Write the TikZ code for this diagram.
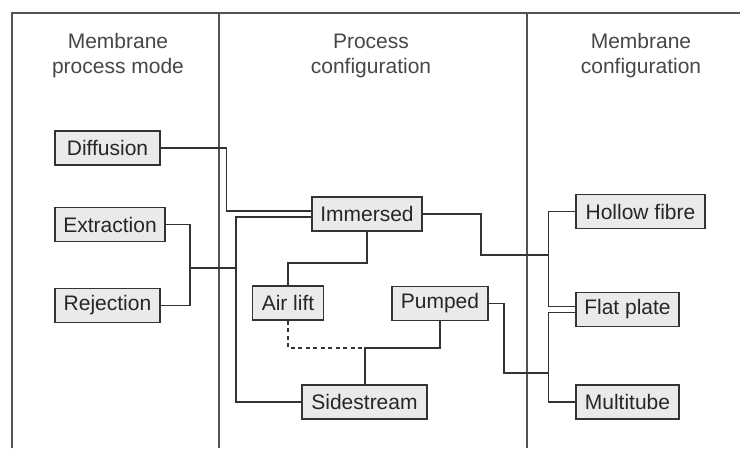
\documentclass[tikz,border=0pt]{standalone}
\usepackage{fontspec}
\setmainfont{Liberation Sans}
\definecolor{ink}{HTML}{333333}
\definecolor{boxfill}{HTML}{EAEAEA}
\definecolor{txt}{HTML}{262626}
\tikzset{
  box/.style={draw=ink, fill=boxfill, line width=1.6pt, minimum height=34pt,
    inner xsep=2pt, inner ysep=0pt, text=txt, font=\fontsize{21}{25}\selectfont},
  conn/.style={draw=ink, line width=1.4pt},
  frameline/.style={draw=ink!85, line width=1.1pt},
  header/.style={align=center, text=txt!85, font=\fontsize{21}{25}\selectfont}
}
\begin{document}
\begin{tikzpicture}[x=1pt,y=-1pt]
\useasboundingbox (0,0) rectangle (740,448);
\fill[white] (0,0) rectangle (740,448);
% frame
\draw[frameline] (12,448) -- (12,13) -- (740,13);
\draw[frameline] (219,13) -- (219,448);
\draw[frameline] (527,13) -- (527,448);
% headers
\node[header] (h1) at (118,55.5) {Membrane\\process mode};
\node[header] (h2) at (371,55.5) {Process\\configuration};
\node[header] (h3) at (641,55.5) {Membrane\\configuration};
% boxes
\node[box, minimum width=105pt] (diff) at (107.5,148) {Diffusion};
\node[box, minimum width=110pt] (extr) at (110,224.5) {Extraction};
\node[box, minimum width=105pt] (rej) at (107.5,305.5) {Rejection};
\node[box, minimum width=110pt] (imm) at (367,214) {Immersed};
\node[box, minimum width=71pt] (air) at (288,303) {Air lift};
\node[box, minimum width=125pt] (side) at (364.5,402) {Sidestream};
\node[box, minimum width=96pt] (pump) at (440,303.5) {Pumped};
\node[box, minimum width=129pt] (hollow) at (640.5,211.5) {Hollow fibre};
\node[box, minimum width=103pt] (flat) at (627.5,309.5) {Flat plate};
\node[box, minimum width=103pt] (multi) at (627.5,402) {Multitube};
% junction coordinates
\coordinate (j1) at (190,268);
\coordinate (b1) at (236,268);
\coordinate (k) at (365,348);
\coordinate (r1) at (549,255);
\coordinate (r2) at (549,373);
% connectors left
\draw[conn] (diff.east) -| ([xshift=-85pt,yshift=3pt]imm.west) -- ([yshift=3pt]imm.west);
\draw[conn] (extr.east) -| (j1) |- (rej.east);
\draw[conn] (j1) -- (b1);
\draw[conn] ([yshift=-3pt]imm.west) -| (b1) |- (side.west);
% middle
\draw[conn] (imm.south) -- ++(0,31) -| (air.north);
\draw[conn, line width=1.2pt, dash pattern=on 4pt off 3.5pt] (air.south) |- (k);
\draw[conn] (pump.south) |- (k) -- (k |- side.north);
% right
\draw[conn] (imm.east) -- ++(58,0) |- (r1);
\draw[conn] (pump.east) -- ++(15,0) |- (r2);
\draw[conn] (hollow.west) -- ++(-27,0) |- ([yshift=3pt]flat.west);
\draw[conn] ([yshift=-3pt]flat.west) -- ++(-27,0) |- (multi.west);
\end{tikzpicture}
\end{document}
